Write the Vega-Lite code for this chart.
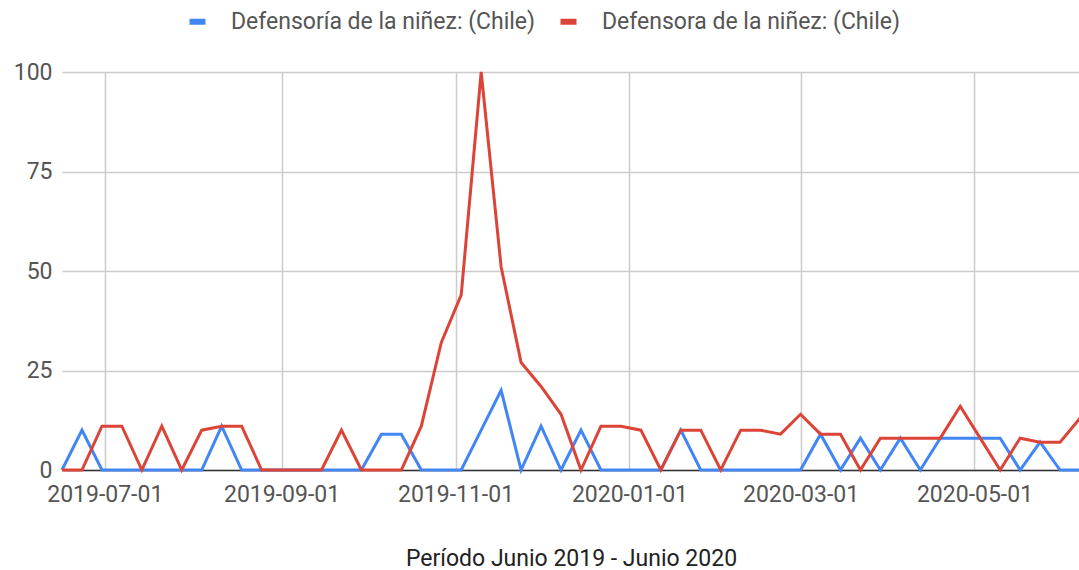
{
  "$schema": "https://vega.github.io/schema/vega-lite/v6.json",
  "autosize": {"type": "none"},
  "width": 1018,
  "height": 398,
  "padding": {"left": 62, "top": 72, "right": 0, "bottom": 100},
  "background": "white",
  "config": {
    "font": "Roboto",
    "view": {"stroke": null},
    "axis": {"labelFont": "Roboto", "titleFont": "Roboto"}
  },
  "data": {
    "values": [
      {"semana": "2019-06-16", "Defensoría de la niñez: (Chile)": 0, "Defensora de la niñez: (Chile)": 0},
      {"semana": "2019-06-23", "Defensoría de la niñez: (Chile)": 10, "Defensora de la niñez: (Chile)": 0},
      {"semana": "2019-06-30", "Defensoría de la niñez: (Chile)": 0, "Defensora de la niñez: (Chile)": 11},
      {"semana": "2019-07-07", "Defensoría de la niñez: (Chile)": 0, "Defensora de la niñez: (Chile)": 11},
      {"semana": "2019-07-14", "Defensoría de la niñez: (Chile)": 0, "Defensora de la niñez: (Chile)": 0},
      {"semana": "2019-07-21", "Defensoría de la niñez: (Chile)": 0, "Defensora de la niñez: (Chile)": 11},
      {"semana": "2019-07-28", "Defensoría de la niñez: (Chile)": 0, "Defensora de la niñez: (Chile)": 0},
      {"semana": "2019-08-04", "Defensoría de la niñez: (Chile)": 0, "Defensora de la niñez: (Chile)": 10},
      {"semana": "2019-08-11", "Defensoría de la niñez: (Chile)": 11, "Defensora de la niñez: (Chile)": 11},
      {"semana": "2019-08-18", "Defensoría de la niñez: (Chile)": 0, "Defensora de la niñez: (Chile)": 11},
      {"semana": "2019-08-25", "Defensoría de la niñez: (Chile)": 0, "Defensora de la niñez: (Chile)": 0},
      {"semana": "2019-09-01", "Defensoría de la niñez: (Chile)": 0, "Defensora de la niñez: (Chile)": 0},
      {"semana": "2019-09-08", "Defensoría de la niñez: (Chile)": 0, "Defensora de la niñez: (Chile)": 0},
      {"semana": "2019-09-15", "Defensoría de la niñez: (Chile)": 0, "Defensora de la niñez: (Chile)": 0},
      {"semana": "2019-09-22", "Defensoría de la niñez: (Chile)": 0, "Defensora de la niñez: (Chile)": 10},
      {"semana": "2019-09-29", "Defensoría de la niñez: (Chile)": 0, "Defensora de la niñez: (Chile)": 0},
      {"semana": "2019-10-06", "Defensoría de la niñez: (Chile)": 9, "Defensora de la niñez: (Chile)": 0},
      {"semana": "2019-10-13", "Defensoría de la niñez: (Chile)": 9, "Defensora de la niñez: (Chile)": 0},
      {"semana": "2019-10-20", "Defensoría de la niñez: (Chile)": 0, "Defensora de la niñez: (Chile)": 11},
      {"semana": "2019-10-27", "Defensoría de la niñez: (Chile)": 0, "Defensora de la niñez: (Chile)": 32},
      {"semana": "2019-11-03", "Defensoría de la niñez: (Chile)": 0, "Defensora de la niñez: (Chile)": 44},
      {"semana": "2019-11-10", "Defensoría de la niñez: (Chile)": 10, "Defensora de la niñez: (Chile)": 100},
      {"semana": "2019-11-17", "Defensoría de la niñez: (Chile)": 20, "Defensora de la niñez: (Chile)": 51},
      {"semana": "2019-11-24", "Defensoría de la niñez: (Chile)": 0, "Defensora de la niñez: (Chile)": 27},
      {"semana": "2019-12-01", "Defensoría de la niñez: (Chile)": 11, "Defensora de la niñez: (Chile)": 21},
      {"semana": "2019-12-08", "Defensoría de la niñez: (Chile)": 0, "Defensora de la niñez: (Chile)": 14},
      {"semana": "2019-12-15", "Defensoría de la niñez: (Chile)": 10, "Defensora de la niñez: (Chile)": 0},
      {"semana": "2019-12-22", "Defensoría de la niñez: (Chile)": 0, "Defensora de la niñez: (Chile)": 11},
      {"semana": "2019-12-29", "Defensoría de la niñez: (Chile)": 0, "Defensora de la niñez: (Chile)": 11},
      {"semana": "2020-01-05", "Defensoría de la niñez: (Chile)": 0, "Defensora de la niñez: (Chile)": 10},
      {"semana": "2020-01-12", "Defensoría de la niñez: (Chile)": 0, "Defensora de la niñez: (Chile)": 0},
      {"semana": "2020-01-19", "Defensoría de la niñez: (Chile)": 10, "Defensora de la niñez: (Chile)": 10},
      {"semana": "2020-01-26", "Defensoría de la niñez: (Chile)": 0, "Defensora de la niñez: (Chile)": 10},
      {"semana": "2020-02-02", "Defensoría de la niñez: (Chile)": 0, "Defensora de la niñez: (Chile)": 0},
      {"semana": "2020-02-09", "Defensoría de la niñez: (Chile)": 0, "Defensora de la niñez: (Chile)": 10},
      {"semana": "2020-02-16", "Defensoría de la niñez: (Chile)": 0, "Defensora de la niñez: (Chile)": 10},
      {"semana": "2020-02-23", "Defensoría de la niñez: (Chile)": 0, "Defensora de la niñez: (Chile)": 9},
      {"semana": "2020-03-01", "Defensoría de la niñez: (Chile)": 0, "Defensora de la niñez: (Chile)": 14},
      {"semana": "2020-03-08", "Defensoría de la niñez: (Chile)": 9, "Defensora de la niñez: (Chile)": 9},
      {"semana": "2020-03-15", "Defensoría de la niñez: (Chile)": 0, "Defensora de la niñez: (Chile)": 9},
      {"semana": "2020-03-22", "Defensoría de la niñez: (Chile)": 8, "Defensora de la niñez: (Chile)": 0},
      {"semana": "2020-03-29", "Defensoría de la niñez: (Chile)": 0, "Defensora de la niñez: (Chile)": 8},
      {"semana": "2020-04-05", "Defensoría de la niñez: (Chile)": 8, "Defensora de la niñez: (Chile)": 8},
      {"semana": "2020-04-12", "Defensoría de la niñez: (Chile)": 0, "Defensora de la niñez: (Chile)": 8},
      {"semana": "2020-04-19", "Defensoría de la niñez: (Chile)": 8, "Defensora de la niñez: (Chile)": 8},
      {"semana": "2020-04-26", "Defensoría de la niñez: (Chile)": 8, "Defensora de la niñez: (Chile)": 16},
      {"semana": "2020-05-03", "Defensoría de la niñez: (Chile)": 8, "Defensora de la niñez: (Chile)": 8},
      {"semana": "2020-05-10", "Defensoría de la niñez: (Chile)": 8, "Defensora de la niñez: (Chile)": 0},
      {"semana": "2020-05-17", "Defensoría de la niñez: (Chile)": 0, "Defensora de la niñez: (Chile)": 8},
      {"semana": "2020-05-24", "Defensoría de la niñez: (Chile)": 7, "Defensora de la niñez: (Chile)": 7},
      {"semana": "2020-05-31", "Defensoría de la niñez: (Chile)": 0, "Defensora de la niñez: (Chile)": 7},
      {"semana": "2020-06-07", "Defensoría de la niñez: (Chile)": 0, "Defensora de la niñez: (Chile)": 13}
    ]
  },
  "transform": [
    {"fold": ["Defensoría de la niñez: (Chile)", "Defensora de la niñez: (Chile)"], "as": ["serie", "valor"]}
  ],
  "mark": {"type": "line", "strokeWidth": 3, "clip": false},
  "encoding": {
    "x": {
      "field": "semana",
      "type": "temporal",
      "scale": {
        "type": "utc",
        "domain": [
          {"year": 2019, "month": 6, "date": 16, "utc": true},
          {"year": 2020, "month": 6, "date": 7, "utc": true}
        ]
      },
      "axis": {
        "values": [
          {"year": 2019, "month": 7, "date": 1, "utc": true},
          {"year": 2019, "month": 9, "date": 1, "utc": true},
          {"year": 2019, "month": 11, "date": 1, "utc": true},
          {"year": 2020, "month": 1, "date": 1, "utc": true},
          {"year": 2020, "month": 3, "date": 1, "utc": true},
          {"year": 2020, "month": 5, "date": 1, "utc": true}
        ],
        "format": "%Y-%m-%d",
        "title": "Período Junio 2019 - Junio 2020",
        "titleFontSize": 23,
        "titleFontWeight": "normal",
        "titleColor": "#222222",
        "titlePadding": 41,
        "labelFontSize": 23,
        "labelColor": "#555555",
        "labelPadding": 13,
        "labelFlush": false,
        "labelOverlap": false,
        "ticks": false,
        "domain": true,
        "domainColor": "#333333",
        "domainWidth": 1.5,
        "grid": true,
        "gridColor": "#cccccc",
        "gridWidth": 1.5
      }
    },
    "y": {
      "field": "valor",
      "type": "quantitative",
      "scale": {"domain": [0, 100], "nice": false},
      "axis": {
        "values": [0, 25, 50, 75, 100],
        "title": null,
        "labelFontSize": 23,
        "labelColor": "#555555",
        "labelPadding": 10,
        "ticks": false,
        "domain": false,
        "grid": true,
        "gridColor": "#cccccc",
        "gridWidth": 1.5
      }
    },
    "color": {
      "field": "serie",
      "type": "nominal",
      "scale": {
        "domain": ["Defensoría de la niñez: (Chile)", "Defensora de la niñez: (Chile)"],
        "range": ["#4285F4", "#DB4437"]
      },
      "legend": {
        "title": null,
        "orient": "none",
        "legendX": 124,
        "legendY": -62,
        "direction": "horizontal",
        "symbolType": "stroke",
        "symbolStrokeWidth": 6,
        "symbolSize": 256,
        "labelFontSize": 23,
        "labelColor": "#555555",
        "labelOffset": 22,
        "columnPadding": 12,
        "labelLimit": 400
      }
    }
  }
}
